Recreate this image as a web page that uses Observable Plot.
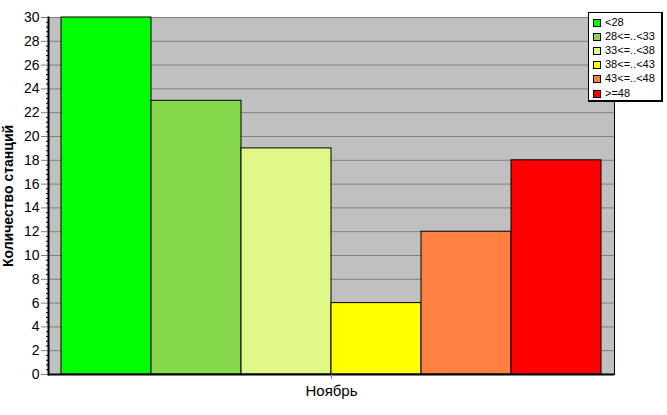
<!DOCTYPE html>
<html>
<head>
<meta charset="utf-8">
<script src="https://cdn.jsdelivr.net/npm/d3@7"></script>
<script src="https://cdn.jsdelivr.net/npm/@observablehq/plot@0.6"></script>
<style>
  html, body { margin: 0; padding: 0; background: #fff; }
  #wrap { position: relative; width: 667px; height: 415px; overflow: hidden; }
  #legend {
    position: absolute; left: 588px; top: 12px; width: 72px; height: 87px;
    background: #fff; border: 1px solid #000; border-right-width: 2px; border-bottom-width: 2px;
    font-family: Arial, "Liberation Sans", sans-serif; font-size: 11px; color: #000;
    box-sizing: content-box;
  }
  #legend .row { position: absolute; left: 4px; height: 14px; line-height: 14px; white-space: nowrap; }
  #legend .sw { display: inline-block; width: 6px; height: 6px; border: 1px solid #000; vertical-align: -1px; margin-right: 4px; }
</style>
</head>
<body>
<div id="wrap"></div>
<script>
const month = "Ноябрь";
const categories = ["<28", "28<=..<33", "33<=..<38", "38<=..<43", "43<=..<48", ">=48"];
const counts = [30, 23, 19, 6, 12, 18];
const colors = ["#00ff00", "#86d94c", "#e0f888", "#ffff00", "#ff8040", "#ff0000"];
const yTicks = d3.range(0, 31, 2);
const yMinor = d3.range(0, 75).map(i => i * 0.4).filter(v => Math.abs(v / 2 - Math.round(v / 2)) > 1e-6);
const yTitle = "Количество станций";

const data = categories.map((c, i) => ({month, cat: c, n: counts[i]}));

const chart = Plot.plot({
  width: 667,
  height: 415,
  marginLeft: 48,
  marginRight: 53,
  marginTop: 17,
  marginBottom: 41,
  style: {fontFamily: "Arial, 'Liberation Sans', sans-serif", fontSize: "14px", color: "#000", background: "#fff", overflow: "visible"},
  fx: {domain: [month], padding: 0, label: null},
  x: {domain: categories, paddingInner: 0, paddingOuter: 0.144, axis: null},
  y: {domain: [0, 30], axis: null},
  color: {domain: categories, range: colors},
  marks: [
    Plot.frame({fill: "#c0c0c0", stroke: null}),
    Plot.gridY(yTicks, {stroke: "#808080", strokeOpacity: 1, strokeWidth: 1}),
    Plot.barY(data, {fx: "month", x: "cat", y: "n", fill: "cat", stroke: "#000", strokeWidth: 1}),
    Plot.axisY(yTicks, {anchor: "left", tickSize: 7, tickPadding: 2, stroke: "#808080", fontSize: 14, label: yTitle, labelAnchor: "center", labelArrow: "none", labelOffset: 45}),
    Plot.axisY(yMinor, {anchor: "left", tickSize: 2, tickFormat: () => "", label: null, stroke: "#000"}),
    Plot.frame({anchor: "left", stroke: "#000", strokeWidth: 2}),
    Plot.frame({anchor: "right", stroke: "#000", strokeWidth: 1}),
    Plot.ruleY([0], {stroke: "#000", strokeWidth: 2}),
    Plot.axisFx({anchor: "bottom", tickSize: 5, tickPadding: 6, stroke: "#808080", fontSize: 15, label: null})
  ]
});

// style the y-axis title bold
chart.querySelectorAll("text").forEach(t => {
  if (t.textContent === yTitle) { t.setAttribute("font-weight", "bold"); t.setAttribute("font-size", "14"); }
});

const wrap = document.getElementById("wrap");
wrap.appendChild(chart);

const legend = document.createElement("div");
legend.id = "legend";
categories.forEach((c, i) => {
  const row = document.createElement("div");
  row.className = "row";
  row.style.top = (2 + i * 14.1) + "px";
  const sw = document.createElement("span");
  sw.className = "sw";
  sw.style.background = colors[i];
  row.appendChild(sw);
  row.appendChild(document.createTextNode(c));
  legend.appendChild(row);
});
wrap.appendChild(legend);
</script>
</body>
</html>
